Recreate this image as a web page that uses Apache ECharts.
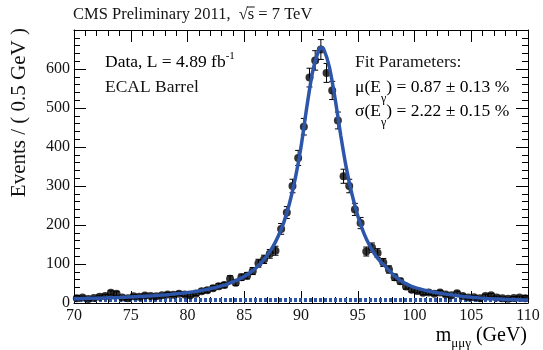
<!DOCTYPE html>
<html><head><meta charset="utf-8">
<script src="https://cdn.jsdelivr.net/npm/echarts@6/dist/echarts.min.js"></script>
<style>html,body{margin:0;padding:0;background:#fff}#c{width:543px;height:350px}</style>
</head><body><div id="c"></div>
<script>
// ---- data ----
const binCenters = [70.25,70.75,71.25,71.75,72.25,72.75,73.25,73.75,74.25,74.75,
  75.25,75.75,76.25,76.75,77.25,77.75,78.25,78.75,79.25,79.75,
  80.25,80.75,81.25,81.75,82.25,82.75,83.25,83.75,84.25,84.75,
  85.25,85.75,86.25,86.75,87.25,87.75,88.25,88.75,89.25,89.75,
  90.25,90.75,91.25,91.75,92.25,92.75,93.25,93.75,94.25,94.75,
  95.25,95.75,96.25,96.75,97.25,97.75,98.25,98.75,99.25,99.75,
  100.25,100.75,101.25,101.75,102.25,102.75,103.25,103.75,104.25,104.75,
  105.25,105.75,106.25,106.75,107.25,107.75,108.25,108.75,109.25,109.75];
const eventCounts = [12,14,10,13,16,18,26,24,14,12,
  17,16,19,18,17,20,22,21,24,22,
  20,24,30,33,38,43,46,62,52,66,
  70,82,102,112,126,134,190,232,300,372,
  452,578,622,650,590,545,468,325,300,240,
  205,132,142,128,104,86,66,56,42,34,
  31,26,27,24,27,22,20,25,18,14,
  15,12,18,20,14,12,11,13,14,12];
const fitX = [70,70.5,71,71.5,72,72.5,73,73.5,74,74.5,75,75.5,76,76.5,77,77.5,78,78.5,79,79.5,
  80,80.5,81,81.5,82,82.5,83,83.5,84,84.5,85,85.5,86,86.5,87,87.5,88,88.5,89,89.5,
  90,90.5,91,91.5,91.75,92,92.5,93,93.5,94,94.5,95,95.5,96,96.5,97,97.5,98,98.5,99,99.5,
  100,100.5,101,101.5,102,102.5,103,103.5,104,104.5,105,105.5,106,106.5,107,107.5,108,108.5,109,109.5,110];
const fitY = [11,11.2,11.5,11.9,12.3,12.7,13.2,13.7,14.2,14.8,15.5,16.2,16.9,17.8,18.7,19.7,20.8,22.1,23.5,25,
  26.8,28.8,31,33.6,36.5,40,43.9,48.5,53.9,60.4,68.2,77.5,89,103.3,121,143,172,208,257,320,
  400,500,590,643,655,651,605,525,430,345,278,224,182,150,125,106,92,76,63,53,46,
  40,36,32,29,26.5,24,22,20,18,16,15,13.5,12,11,10.5,10,9.5,9,8.5,8,7.5];
const bgX = [70, 110];
const bgY = [8, 8];
const xTicks = {min: 70, max: 110, step: 5};
const yTicks = {min: 0, max: 700, step: 100};

const FONT = '"Liberation Serif", "DejaVu Serif", serif';
const INK = '#141414';
const BLUE = '#2d55aa';

const zip = (a, b) => a.map((v, i) => [v, b[i]]);

// overline position for sqrt(s)
const mc = document.createElement('canvas').getContext('2d');
mc.font = '16.5px ' + FONT;
const titleX = 73;
const pre = 'CMS Preliminary 2011,  \u221A';
const wPre = mc.measureText(pre).width;
const wS = mc.measureText('s').width;

const chart = echarts.init(document.getElementById('c'), null, {renderer: 'canvas'});

function axisCommon(pos, showLabel) {
  const isY = (pos === 'left' || pos === 'right');
  const t = isY ? yTicks : xTicks;
  return {
    type: 'value', position: pos,
    min: t.min, max: t.max, interval: t.step,
    axisLine: {show: true, onZero: false, lineStyle: {color: '#000', width: 1}},
    axisTick: {show: true, inside: true, length: 12, lineStyle: {color: '#000', width: 1}},
    minorTick: {show: true, splitNumber: 5, length: 6, lineStyle: {color: '#000', width: 1}},
    splitLine: {show: false},
    minorSplitLine: {show: false},
    axisLabel: {show: showLabel, fontFamily: FONT, fontSize: 16, color: INK,
      margin: (pos === 'left') ? 4 : 5, showMaxLabel: pos === 'bottom'}
  };
}

const option = {
  animation: false,
  backgroundColor: '#fff',
  grid: {left: 74, right: 15, top: 30, bottom: 47},
  xAxis: [axisCommon('bottom', true), axisCommon('top', false)],
  yAxis: [axisCommon('left', true), axisCommon('right', false)],
  series: [
    {
      type: 'line', xAxisIndex: 0, yAxisIndex: 0, data: zip(bgX, bgY),
      symbol: 'none', z: 3,
      lineStyle: {color: BLUE, width: 4, type: [3, 2]}
    },
    {
      type: 'custom', xAxisIndex: 0, yAxisIndex: 0, z: 4,
      data: zip(binCenters, eventCounts),
      renderItem: function (params, api) {
        const x = api.value(0), y = api.value(1);
        const e = Math.sqrt(y);
        const t = api.coord([x, y + e]);
        const b = api.coord([x, y - e]);
        return {type: 'group', children: [
          {type: 'line', shape: {x1: t[0], y1: t[1], x2: b[0], y2: b[1]}, style: {stroke: '#000', lineWidth: 1}},
          {type: 'line', shape: {x1: t[0] - 3, y1: t[1], x2: t[0] + 3, y2: t[1]}, style: {stroke: '#000', lineWidth: 1}},
          {type: 'line', shape: {x1: b[0] - 3, y1: b[1], x2: b[0] + 3, y2: b[1]}, style: {stroke: '#000', lineWidth: 1}}
        ]};
      }
    },
    {
      type: 'scatter', xAxisIndex: 0, yAxisIndex: 0, z: 5,
      data: zip(binCenters, eventCounts),
      symbol: 'circle', symbolSize: 8,
      itemStyle: {color: '#000'}
    },
    {
      type: 'line', xAxisIndex: 0, yAxisIndex: 0, z: 6,
      data: zip(fitX, fitY), symbol: 'none', smooth: 0.2,
      lineStyle: {color: BLUE, width: 3.5}
    }
  ],
  graphic: [
    {type: 'text', x: titleX, y: 15, style: {text: 'CMS Preliminary 2011,  \u221As = 7 TeV',
      font: '16.5px ' + FONT, fill: INK, textVerticalAlign: 'middle'}},
    {type: 'line', shape: {x1: titleX + wPre - 1, y1: 7, x2: titleX + wPre + wS + 0.5, y2: 7},
      style: {stroke: INK, lineWidth: 1}},
    {type: 'text', x: 19, y: 28, rotation: Math.PI / 2,
      style: {text: 'Events / ( 0.5 GeV )', font: '21px ' + FONT, fill: INK,
        textAlign: 'right', textVerticalAlign: 'middle'}},
    {type: 'text', x: 527, y: 338,
      style: {text: '{a|m}{s|\u03BC\u03BC\u03B3}{a| (GeV)}', textAlign: 'right', textVerticalAlign: 'middle',
        rich: {
          a: {fontFamily: FONT, fontSize: 20, color: INK, lineHeight: 24, verticalAlign: 'top'},
          s: {fontFamily: FONT, fontSize: 13, color: INK, lineHeight: 15, verticalAlign: 'bottom'}
        }}},
    {type: 'text', x: 105, y: 62,
      style: {text: '{a|Data, L = 4.89 fb}{u|-1}', textVerticalAlign: 'middle',
        rich: {
          a: {fontFamily: FONT, fontSize: 17.5, color: INK, lineHeight: 22},
          u: {fontFamily: FONT, fontSize: 11, color: INK, lineHeight: 12, verticalAlign: 'top'}
        }}},
    {type: 'text', x: 105, y: 87,
      style: {text: 'ECAL Barrel', font: '17.5px ' + FONT, fill: INK, textVerticalAlign: 'middle'}},
    {type: 'text', x: 355, y: 62,
      style: {text: 'Fit Parameters:', font: '17.5px ' + FONT, fill: INK, textVerticalAlign: 'middle'}},
    {type: 'text', x: 355, y: 89,
      style: {text: '{a|\u03BC(E}{d|\u03B3}{a|) = 0.87 \u00B1 0.13 %}', textVerticalAlign: 'middle',
        rich: {
          a: {fontFamily: FONT, fontSize: 17.5, color: INK, lineHeight: 22, verticalAlign: 'top'},
          d: {fontFamily: FONT, fontSize: 12, color: INK, lineHeight: 12, verticalAlign: 'bottom', padding: [0, 0, -5, 0]}
        }}},
    {type: 'text', x: 355, y: 113,
      style: {text: '{a|\u03C3(E}{d|\u03B3}{a|) = 2.22 \u00B1 0.15 %}', textVerticalAlign: 'middle',
        rich: {
          a: {fontFamily: FONT, fontSize: 17.5, color: INK, lineHeight: 22, verticalAlign: 'top'},
          d: {fontFamily: FONT, fontSize: 12, color: INK, lineHeight: 12, verticalAlign: 'bottom', padding: [0, 0, -5, 0]}
        }}}
  ]
};
chart.setOption(option);
</script>
</body></html>
